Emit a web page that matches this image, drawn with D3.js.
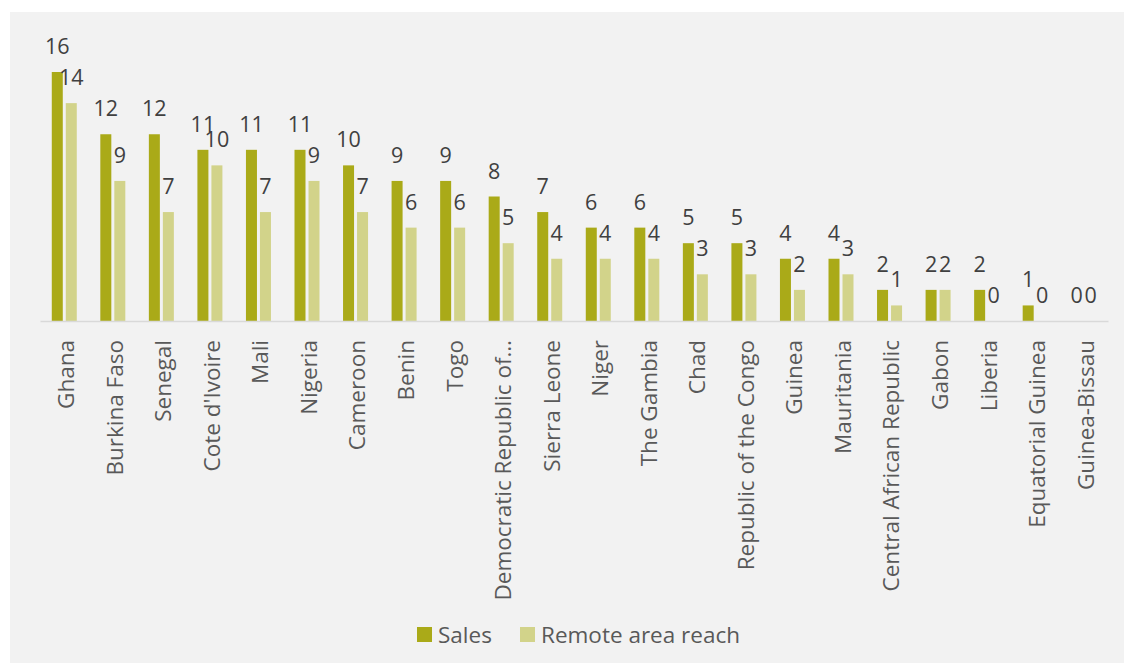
<!DOCTYPE html>
<html><head><meta charset="utf-8">
<script src="https://cdn.jsdelivr.net/npm/d3@7"></script>
<style>body{margin:0;background:#fff;}svg{display:block;font-family:"Open Sans","Noto Sans",sans-serif;}</style>
</head><body>
<svg id="c" width="1124" height="663"></svg>
<script>
const categories = ["Ghana","Burkina Faso","Senegal","Cote d'Ivoire","Mali","Nigeria","Cameroon","Benin","Togo","Democratic Republic of\u2026","Sierra Leone","Niger","The Gambia","Chad","Republic of the Congo","Guinea","Mauritania","Central African Republic","Gabon","Liberia","Equatorial Guinea","Guinea-Bissau"];
const sales = [16,12,12,11,11,11,10,9,9,8,7,6,6,5,5,4,4,2,2,2,1,0];
const remote = [14,9,7,10,7,9,7,6,6,5,4,4,4,3,3,2,3,1,2,0,0,0];
const seriesNames = ["Sales","Remote area reach"];
const colors = ["#aaaa18","#d2d38a"];

const svg = d3.select("#c");
svg.append("rect").attr("x",10).attr("y",12).attr("width",1114).attr("height",651).attr("fill","#f2f2f2");

const x = d3.scaleBand().domain(categories).range([40,1108]);
const y = d3.scaleLinear().domain([0,16]).range([321,72]);
const bw = 11, gap = 3;
const series = [sales, remote];

series.forEach((vals, si) => {
  const off = si === 0 ? -(bw + gap/2) : gap/2;
  const g = svg.append("g");
  g.selectAll("rect").data(categories).join("rect")
    .attr("x", d => x(d) + x.bandwidth()/2 + off)
    .attr("y", (d,i) => y(vals[i]))
    .attr("width", bw)
    .attr("height", (d,i) => y(0) - y(vals[i]))
    .attr("fill", colors[si]);
  g.selectAll("text").data(categories).join("text")
    .attr("x", d => x(d) + x.bandwidth()/2 + off + bw/2)
    .attr("y", (d,i) => y(vals[i]) - 18)
    .attr("text-anchor","middle")
    .attr("font-size", 21.5)
    .attr("fill","#404040")
    .text((d,i) => vals[i]);
});

// axis
const ax = svg.append("g").attr("transform","translate(0,321)").call(d3.axisBottom(x).tickSize(0).tickPadding(0));
ax.select(".domain").attr("stroke","#d9d9d9").attr("stroke-width",1.5);
ax.selectAll("text")
  .attr("font-size", 22.5)
  .attr("fill","#595959")
  .attr("font-family","'Open Sans','Noto Sans',sans-serif")
  .attr("text-anchor","end")
  .attr("dy","0.35em")
  .attr("transform","translate(2,19) rotate(-90)")
  .attr("x",0).attr("y",0);

// legend
const lg = svg.append("g");
const lx = [417, 520];
seriesNames.forEach((n,i) => {
  lg.append("rect").attr("x",lx[i]).attr("y",627).attr("width",15).attr("height",15).attr("fill",colors[i]);
  lg.append("text").attr("x",lx[i]+21).attr("y",643).attr("font-size",22.5).attr("fill","#595959").text(n);
});
</script>
</body></html>
